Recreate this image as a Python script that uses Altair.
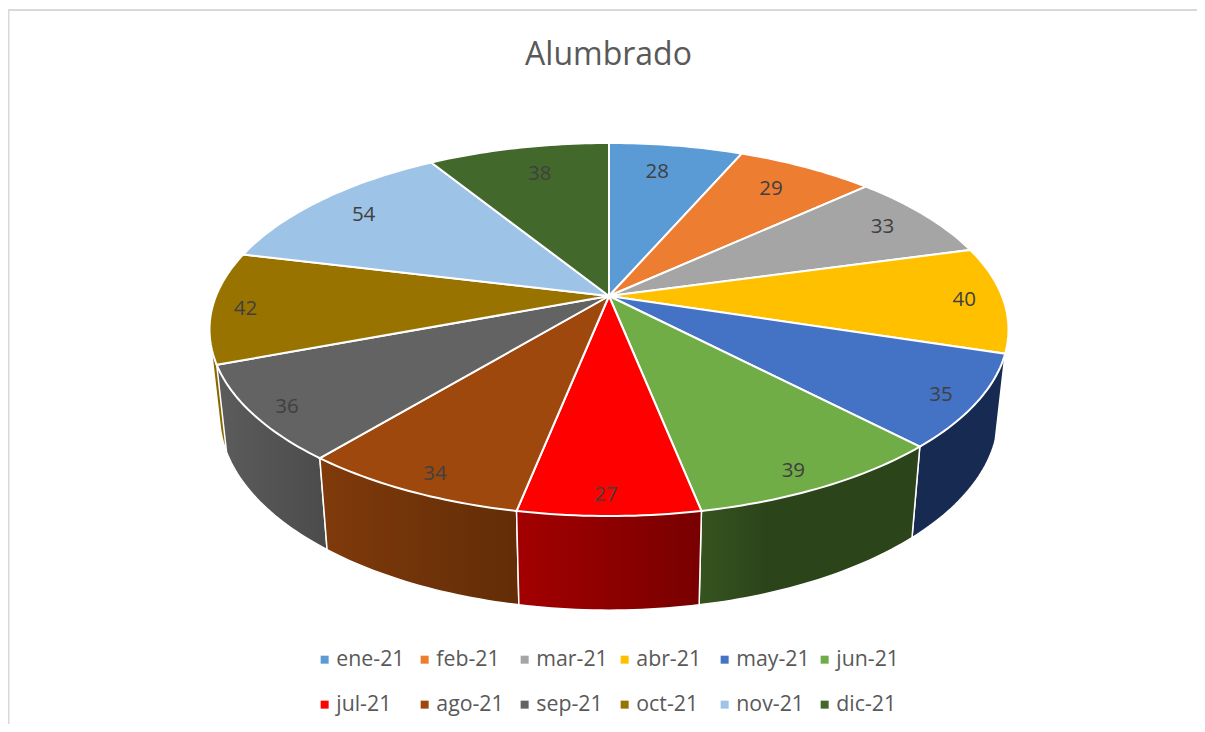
import math
import altair as alt

months = ["ene-21", "feb-21", "mar-21", "abr-21", "may-21", "jun-21",
          "jul-21", "ago-21", "sep-21", "oct-21", "nov-21", "dic-21"]
values = [28, 29, 33, 40, 35, 39, 27, 34, 36, 42, 54, 38]
colors = ["#5b9bd5", "#ed7d31", "#a5a5a5", "#ffc000", "#4472c4", "#70ad47",
          "#ff0000", "#9e480e", "#636363", "#997300", "#9dc3e6", "#43682b"]
side_stops = {
    "oct-21": ("#8a6800", "#8a6800"),
    "sep-21": ("#5c5c5c", "#4b4b4b"),
    "ago-21": ("#803a0b", "#622d07"),
    "jul-21": ("#a30000", "#780000"),
    "jun-21": ("#36541f", "#2c441a"),
    "may-21": ("#172b52", "#172b52"),
}

PAD_TOP = 72
WIDTH, HEIGHT = 1189, 716
CX, CY = 609.0, 296.0
A, B, K = 180.5, 393.0, 0.1796
BOT_SX, BOT_SY, BOT_Y = 0.975, 1.046, 380.0
# small layout corrections for the value labels, in pixels
label_nudge = [(-5, -5), (1, -2), (3, 0), (0, 1), (-6, 2), (-11, 1),
               (-3, 0), (8, 1), (5, 3), (-5, 3), (-3, 0), (3, -4)]


def top_point(theta, r=1.0):
    s, c = math.sin(theta) * r, math.cos(theta) * r
    d = 1 + K * c
    return CX + B * s / d, CY - A * c / d


def bottom_point(theta):
    x, y = top_point(theta)
    return CX + (x - CX) * BOT_SX, BOT_Y + (y - CY) * BOT_SY


def arc(fn, a0, a1):
    n = max(2, int(abs(a1 - a0) * 180 / math.pi))
    return [fn(a0 + (a1 - a0) * i / n) for i in range(n + 1)]


def hull(points):
    pts = sorted(set(points))
    def half(seq):
        out = []
        for p in seq:
            while len(out) >= 2 and ((out[-1][0] - out[-2][0]) * (p[1] - out[-2][1])
                                     - (out[-1][1] - out[-2][1]) * (p[0] - out[-2][0])) <= 0:
                out.pop()
            out.append(p)
        return out
    lower, upper = half(pts), half(pts[::-1])
    return lower[:-1] + upper[:-1]


def feature(month, ring):
    ring = [list(p) for p in ring]
    ring.append(ring[0])
    return {"type": "Feature", "properties": {"month": month},
            "geometry": {"type": "Polygon", "coordinates": [ring]}}


total = sum(values)
bounds = [0.0]
for v in values:
    bounds.append(bounds[-1] + v / total * 2 * math.pi)

tops, labels, spans = [], [], {}
for i, m in enumerate(months):
    a0, a1 = bounds[i], bounds[i + 1]
    spans[m] = (a0, a1)
    tops.append(feature(m, [(CX, CY)] + arc(top_point, a0, a1)))
    mid = (a0 + a1) / 2
    r = 0.84 - 0.08 * math.cos(mid) + 0.06 * math.sin(mid) ** 2
    lx, ly = top_point(mid, r)
    labels.append({"lon": lx + label_nudge[i][0], "lat": ly + label_nudge[i][1], "value": values[i]})

projection = dict(type="identity", scale=1, translate=[-8, -8 - PAD_TOP])

layers = []
for m in ["oct-21", "sep-21", "ago-21", "may-21", "jun-21", "jul-21"]:
    a0, a1 = spans[m]
    ring = hull(arc(top_point, a0, a1) + arc(bottom_point, a0, a1))
    c0, c1 = side_stops[m]
    grad = alt.Gradient(gradient="linear", x1=0, x2=1, y1=0, y2=0,
                        stops=[alt.GradientStop(color=c0, offset=0),
                               alt.GradientStop(color=c1, offset=0.3 if m == "jun-21" else 1)])
    layers.append(
        alt.Chart(alt.Data(values=[feature(m, ring)]))
        .mark_geoshape(fill=grad, stroke="white", strokeWidth=1.5)
        .project(**projection)
    )

disk = (
    alt.Chart(alt.Data(values=tops))
    .mark_geoshape(stroke="white", strokeWidth=2)
    .encode(
        color=alt.Color(
            "properties.month:N",
            scale=alt.Scale(domain=months, range=colors),
            legend=alt.Legend(
                title=None, orient="none", legendX=306, legendY=569,
                direction="horizontal", columns=6, gridAlign="all",
                columnPadding=4, rowPadding=23,
                symbolType="square", symbolSize=64, symbolStrokeWidth=0,
                symbolOffset=0, labelOffset=1, labelFont="Open Sans",
                labelFontSize=21.3, labelColor="#595959", labelLimit=200,
            ),
        )
    )
    .project(**projection)
)

text = (
    alt.Chart(alt.Data(values=labels))
    .mark_text(font="Open Sans", fontSize=20.5, color="#404040")
    .encode(longitude="lon:Q", latitude="lat:Q", text="value:Q")
    .project(**projection)
)

frame_top = alt.Chart(alt.Data(values=[{"a": 0}])).mark_rule(color="#d9d9d9", strokeWidth=2).encode(
    x=alt.value(0), x2=alt.value(WIDTH), y=alt.value(2 - PAD_TOP))
frame_left = alt.Chart(alt.Data(values=[{"a": 0}])).mark_rule(color="#d9d9d9", strokeWidth=2).encode(
    x=alt.value(0.5), y=alt.value(2 - PAD_TOP), y2=alt.value(HEIGHT - PAD_TOP))

chart = (
    alt.layer(frame_top, frame_left, *layers, disk, text)
    .properties(
        width=WIDTH,
        height=HEIGHT - PAD_TOP,
        padding={"left": 0, "right": 0, "top": PAD_TOP, "bottom": 0},
        autosize=alt.AutoSizeParams(type="none"),
        background="white",
        title=alt.TitleParams(
            "Alumbrado", font="Open Sans", fontSize=32, fontWeight="normal",
            color="#595959", anchor="middle", dx=6, offset=-63,
        ),
    )
    .configure_view(stroke=None)
)

chart.save("out.html", embed_options={"renderer": "svg", "actions": False})
